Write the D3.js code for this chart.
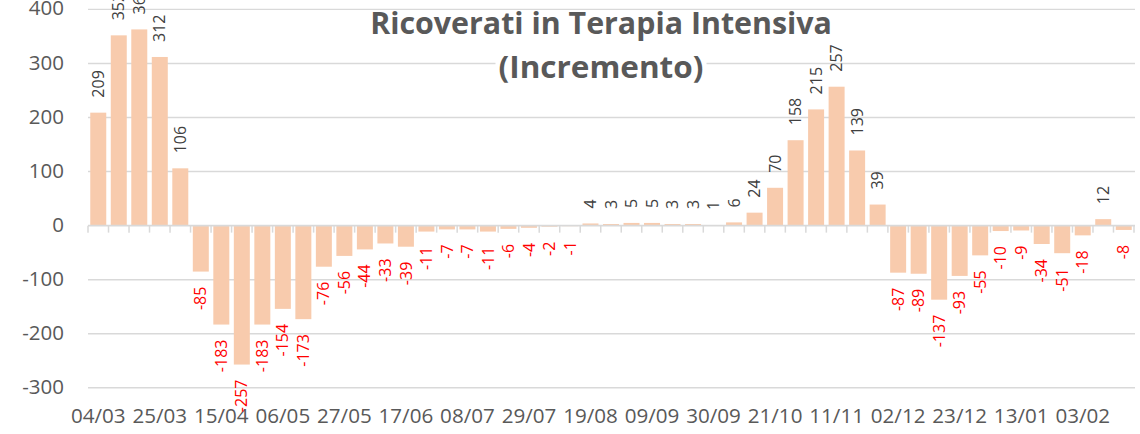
<!DOCTYPE html>
<html>
<head>
<meta charset="utf-8">
<script src="https://cdn.jsdelivr.net/npm/d3@7/dist/d3.min.js"></script>
<style>
  html, body { margin: 0; padding: 0; background: #ffffff; }
  svg { display: block; }
</style>
</head>
<body>
<script>
// ---- data ----
const categories = [
  "04/03","11/03","18/03","25/03","01/04","08/04","15/04","22/04","29/04","06/05",
  "13/05","20/05","27/05","03/06","10/06","17/06","24/06","01/07","08/07","15/07",
  "22/07","29/07","05/08","12/08","19/08","26/08","02/09","09/09","16/09","23/09",
  "30/09","07/10","14/10","21/10","28/10","04/11","11/11","18/11","25/11","02/12",
  "09/12","16/12","23/12","30/12","06/01","13/01","20/01","27/01","03/02","10/02",
  "17/02"
];
const values = [
  209, 352, 363, 312, 106, -85, -183, -257, -183, -154,
  -173, -76, -56, -44, -33, -39, -11, -7, -7, -11,
  -6, -4, -2, -1, 4, 3, 5, 5, 3, 3,
  1, 6, 24, 70, 158, 215, 257, 139, 39, -87,
  -89, -137, -93, -55, -10, -9, -34, -51, -18, 12,
  -8
];
const yTicks = [-300, -200, -100, 0, 100, 200, 300, 400];
const xTickLabels = categories.filter((d, i) => i % 3 === 0);
const titleLines = ["Ricoverati in Terapia Intensiva", "(Incremento)"];

// ---- layout ----
const W = 1140, H = 434;
const FONT = "'Open Sans', 'DejaVu Sans', sans-serif";
const svg = d3.select("body").append("svg").attr("width", W).attr("height", H);
svg.append("rect").attr("width", W).attr("height", H).attr("fill", "#ffffff");

const x = d3.scaleBand().domain(categories).range([88, 1134])
  .paddingInner(0.22).paddingOuter(0.11);
const y = d3.scaleLinear().domain([-300, 400]).range([387.8, 9.4]);

// gridlines
svg.append("g").selectAll("line").data(yTicks.filter(d => d !== 0)).join("line")
  .attr("x1", 88).attr("x2", 1135)
  .attr("y1", d => y(d)).attr("y2", d => y(d))
  .attr("stroke", "#d9d9d9").attr("stroke-width", 1.4);

// bars
svg.append("g").selectAll("rect").data(values).join("rect")
  .attr("x", (d, i) => x(categories[i]))
  .attr("width", x.bandwidth())
  .attr("y", d => y(Math.max(0, d)))
  .attr("height", d => Math.abs(y(d) - y(0)))
  .attr("fill", "#f8cbad");

// zero axis line and boundary ticks
const step = x.step();
const x0 = x.range()[0];
svg.append("line").attr("x1", 88).attr("x2", 1135)
  .attr("y1", y(0)).attr("y2", y(0))
  .attr("stroke", "#d9d9d9").attr("stroke-width", 1.6);
svg.append("g").selectAll("line").data(d3.range(categories.length + 1)).join("line")
  .attr("x1", i => x0 + i * step).attr("x2", i => x0 + i * step)
  .attr("y1", y(0)).attr("y2", y(0) + 7)
  .attr("stroke", "#d9d9d9").attr("stroke-width", 1.5);

// y axis labels
const yAxis = svg.append("g").attr("transform", "translate(64,-1)")
  .call(d3.axisLeft(y).tickValues(yTicks).tickSize(0).tickPadding(0).tickFormat(d => String(d)));
yAxis.select(".domain").remove();
yAxis.selectAll("text").attr("font-family", FONT).attr("font-size", 20.5).attr("fill", "#595959");

// x axis labels
const xAxis = svg.append("g").attr("transform", "translate(0,408)")
  .call(d3.axisBottom(x).tickValues(xTickLabels).tickSize(0).tickPadding(0));
xAxis.select(".domain").remove();
xAxis.selectAll("text").attr("font-family", FONT).attr("font-size", 20.6)
  .attr("fill", "#595959").attr("dy", "0.71em");

// data labels
svg.append("g").selectAll("text").data(values).join("text")
  .attr("transform", (d, i) => {
    const cx = x(categories[i]) + x.bandwidth() / 2;
    const cy = d >= 0 ? y(d) - 15 : y(d) + 15;
    return `translate(${cx},${cy}) rotate(-90)`;
  })
  .attr("text-anchor", d => d >= 0 ? "start" : "end")
  .attr("dy", "0.35em")
  .attr("font-family", FONT).attr("font-size", 16)
  .attr("fill", d => d >= 0 ? "#404040" : "#ff0000")
  .text(d => String(d));

// title
const titleTargets = [462, 205];
const titleBase = [33.5, 77.5];
titleLines.forEach((t, k) => {
  const g = svg.append("g");
  const txt = g.append("text")
    .attr("text-anchor", "middle")
    .attr("font-family", FONT).attr("font-weight", "bold").attr("font-size", 29.5)
    .attr("fill", "#595959").text(t);
  const len = txt.node().getComputedTextLength();
  const sx = titleTargets[k] / len;
  txt.attr("transform", `translate(601,${titleBase[k]}) scale(${sx},1)`);
  if (k === 1) {
    g.insert("rect", "text")
      .attr("x", 601 - titleTargets[k] / 2 - 3).attr("y", titleBase[k] - 28)
      .attr("width", titleTargets[k] + 6).attr("height", 36)
      .attr("fill", "#ffffff");
  }
});
</script>
</body>
</html>
